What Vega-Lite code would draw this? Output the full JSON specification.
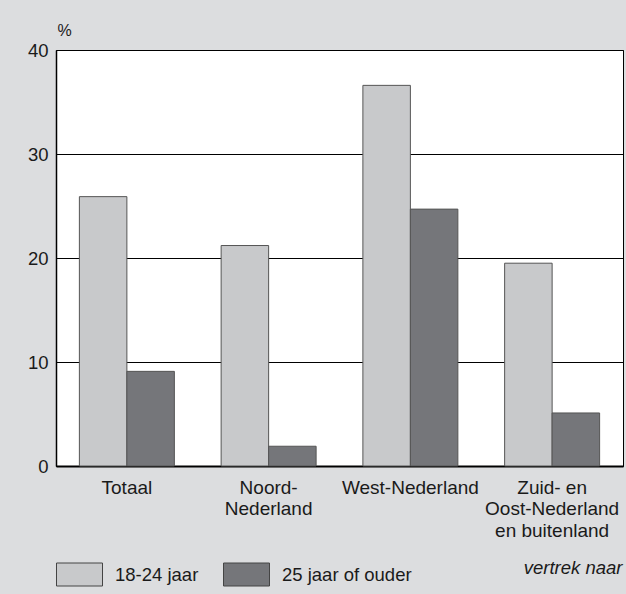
{
  "$schema": "https://vega.github.io/schema/vega-lite/v6.json",
  "width": 567,
  "height": 416,
  "autosize": {"type": "none"},
  "padding": {"left": 56, "top": 50, "right": 3, "bottom": 128},
  "background": "#dcdddf",
  "config": {
    "font": "Liberation Sans",
    "view": {"fill": "white", "stroke": "black", "strokeWidth": 1},
    "axis": {"labelColor": "#1a1a1a", "titleColor": "#1a1a1a"}
  },
  "data": {
    "values": [
      {"regio": "Totaal", "leeftijd": "18-24 jaar", "pct": 25.9},
      {"regio": "Totaal", "leeftijd": "25 jaar of ouder", "pct": 9.1},
      {"regio": "Noord-|Nederland", "leeftijd": "18-24 jaar", "pct": 21.2},
      {"regio": "Noord-|Nederland", "leeftijd": "25 jaar of ouder", "pct": 1.9},
      {"regio": "West-Nederland", "leeftijd": "18-24 jaar", "pct": 36.6},
      {"regio": "West-Nederland", "leeftijd": "25 jaar of ouder", "pct": 24.7},
      {"regio": "Zuid- en|Oost-Nederland|en buitenland", "leeftijd": "18-24 jaar", "pct": 19.5},
      {"regio": "Zuid- en|Oost-Nederland|en buitenland", "leeftijd": "25 jaar of ouder", "pct": 5.1}
    ]
  },
  "mark": {"type": "bar", "stroke": "#555", "strokeWidth": 1},
  "encoding": {
    "x": {
      "field": "regio",
      "type": "nominal",
      "sort": ["Totaal", "Noord-|Nederland", "West-Nederland", "Zuid- en|Oost-Nederland|en buitenland"],
      "scale": {"paddingInner": 0.33, "paddingOuter": 0.165},
      "axis": {
        "title": "vertrek naar",
        "titleFontSize": 18.5,
        "titleFontStyle": "italic",
        "titleFontWeight": "normal",
        "titleAnchor": "end",
        "titleAlign": "right",
        "titleX": 566,
        "titleY": 107,
        "titleBaseline": "alphabetic",
        "labelExpr": "split(datum.label, '|')",
        "labelAngle": 0,
        "labelFontSize": 19,
        "labelLineHeight": 21.5,
        "labelPadding": 12,
        "labelBaseline": "top",
        "ticks": false,
        "domainColor": "black",
        "domainWidth": 2
      }
    },
    "xOffset": {
      "field": "leeftijd",
      "type": "nominal",
      "sort": ["18-24 jaar", "25 jaar of ouder"],
      "scale": {"paddingInner": 0, "paddingOuter": 0}
    },
    "y": {
      "field": "pct",
      "type": "quantitative",
      "scale": {"domain": [0, 40], "nice": false},
      "axis": {
        "values": [0, 10, 20, 30, 40],
        "title": "%",
        "titleAngle": 0,
        "titleFontSize": 16,
        "titleFontWeight": "normal",
        "titleAlign": "left",
        "titleBaseline": "alphabetic",
        "titleX": 1,
        "titleY": -15,
        "labelFontSize": 18.5,
        "labelPadding": 8,
        "ticks": false,
        "grid": true,
        "gridColor": "black",
        "gridWidth": 1,
        "gridOpacity": 1,
        "domainColor": "black",
        "domainWidth": 1.5
      }
    },
    "color": {
      "field": "leeftijd",
      "type": "nominal",
      "sort": ["18-24 jaar", "25 jaar of ouder"],
      "scale": {"domain": ["18-24 jaar", "25 jaar of ouder"], "range": ["#c8c9cb", "#75767a"]},
      "legend": {
        "title": null,
        "orient": "none",
        "legendX": 0,
        "legendY": 501,
        "direction": "horizontal",
        "padding": 0,
        "symbolType": "M-1,-0.5H1V0.5H-1Z",
        "symbolSize": 2116,
        "symbolStrokeColor": "#444",
        "symbolStrokeWidth": 1,
        "symbolOpacity": 1,
        "labelFontSize": 18.5,
        "labelColor": "#1a1a1a",
        "labelOffset": 12,
        "columnPadding": 22
      }
    }
  }
}
